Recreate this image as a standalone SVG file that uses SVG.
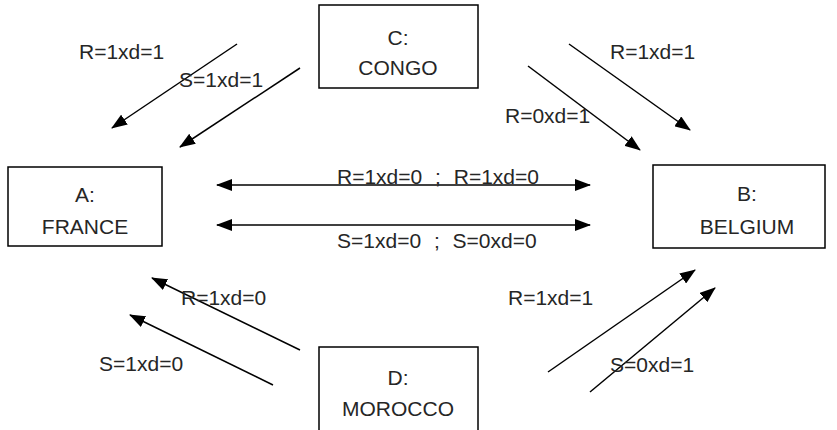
<svg xmlns="http://www.w3.org/2000/svg" width="837" height="430" viewBox="0 0 837 430">
<style>
.box{fill:#fff;stroke:#000;stroke-width:1.5}
.t{font-family:"Liberation Sans",Arial,sans-serif;font-size:21px;fill:#262626;text-anchor:middle}
.l{font-family:"Liberation Sans",Arial,sans-serif;font-size:21px;fill:#262626}
.w{word-spacing:7px}
.c{stroke:#000;stroke-width:1.5;fill:none;marker-end:url(#ah)}
.d{stroke:#000;stroke-width:1.5;fill:none;marker-end:url(#ah);marker-start:url(#ah)}
</style>
<defs>
<marker id="ah" markerWidth="16" markerHeight="12" refX="15" refY="6" orient="auto-start-reverse" markerUnits="userSpaceOnUse">
<path d="M0,0 L16,6 L0,12 Z" fill="#000"/>
</marker>
</defs>
<rect width="837" height="430" fill="#fff"/>
<g id="A"><rect class="box" x="8" y="167" width="154" height="79"/><text class="t" x="85" y="202">A:</text><text class="t" x="85" y="234">FRANCE</text></g>
<g id="B"><rect class="box" x="653" y="165" width="172" height="83"/><text class="t" x="747" y="201">B:</text><text class="t" x="747" y="234">BELGIUM</text></g>
<g id="C"><rect class="box" x="319" y="5" width="159" height="83"/><text class="t" x="398" y="45">C:</text><text class="t" x="398" y="75">CONGO</text></g>
<g id="D"><rect class="box" x="319" y="347" width="159" height="100"/><text class="t" x="398" y="385">D:</text><text class="t" x="398" y="416">MOROCCO</text></g>
<g id="connectors">
<line class="c" x1="237" y1="44" x2="112" y2="128"/>
<line class="c" x1="300" y1="68" x2="180" y2="147"/>
<line class="c" x1="569" y1="44" x2="690" y2="130"/>
<line class="c" x1="528" y1="66" x2="640" y2="150"/>
<line class="d" x1="217" y1="185" x2="590" y2="185"/>
<line class="d" x1="217" y1="225" x2="590" y2="225"/>
<line class="c" x1="300" y1="350" x2="152" y2="278"/>
<line class="c" x1="273" y1="385" x2="130" y2="315"/>
<line class="c" x1="548" y1="372" x2="695" y2="270"/>
<line class="c" x1="590" y1="392" x2="715" y2="288"/>
</g>
<g id="labels">
<text class="l" x="79" y="59">R=1xd=1</text>
<text class="l" x="179" y="87">S=1xd=1</text>
<text class="l" x="610" y="59">R=1xd=1</text>
<text class="l" x="505" y="123">R=0xd=1</text>
<text class="l w" x="337" y="184">R=1xd=0 ; R=1xd=0</text>
<text class="l w" x="337" y="248">S=1xd=0 ; S=0xd=0</text>
<text class="l" x="181" y="305">R=1xd=0</text>
<text class="l" x="99" y="371">S=1xd=0</text>
<text class="l" x="508" y="305">R=1xd=1</text>
<text class="l" x="610" y="372">S=0xd=1</text>
</g>
</svg>
